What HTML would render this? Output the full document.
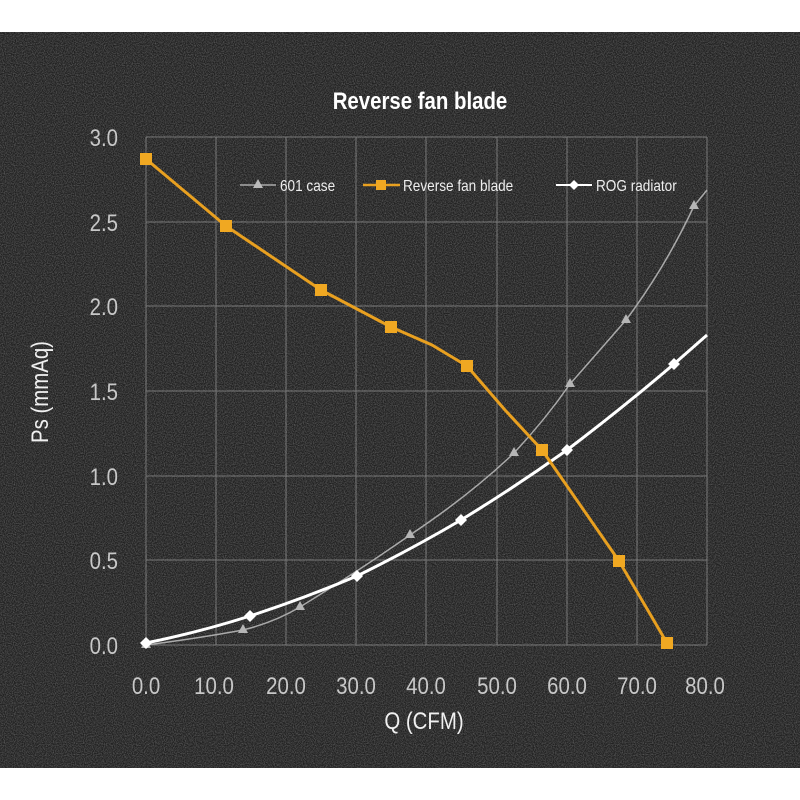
<!DOCTYPE html>
<html><head><style>
body{margin:0;background:#fff;}
svg{display:block;}
text{font-family:"Liberation Sans",sans-serif;}
</style></head><body>
<svg width="800" height="800" xmlns="http://www.w3.org/2000/svg">
<defs>
<filter id="n" x="0" y="0" width="100%" height="100%">
<feTurbulence type="fractalNoise" baseFrequency="0.9" numOctaves="2" seed="3"/>
<feColorMatrix values="0 0 0 0 0.22  0 0 0 0 0.22  0 0 0 0 0.22  0 0 0 1.4 -0.45"/>
</filter>
</defs>
<rect x="0" y="0" width="800" height="800" fill="#fff"/>
<rect x="0" y="32" width="800" height="736" fill="#202020"/>
<rect x="0" y="32" width="800" height="736" filter="url(#n)" opacity="0.8"/>
<g stroke="#8a8a8a" stroke-width="1" opacity="0.8">
<line x1="146" y1="137" x2="707" y2="137"/><line x1="146" y1="222" x2="707" y2="222"/>
<line x1="146" y1="306" x2="707" y2="306"/><line x1="146" y1="391" x2="707" y2="391"/>
<line x1="146" y1="476" x2="707" y2="476"/><line x1="146" y1="560" x2="707" y2="560"/>
<line x1="146" y1="645" x2="707" y2="645"/>
<line x1="146" y1="137" x2="146" y2="645"/><line x1="216" y1="137" x2="216" y2="645"/>
<line x1="286" y1="137" x2="286" y2="645"/><line x1="356" y1="137" x2="356" y2="645"/>
<line x1="426" y1="137" x2="426" y2="645"/><line x1="497" y1="137" x2="497" y2="645"/>
<line x1="567" y1="137" x2="567" y2="645"/><line x1="637" y1="137" x2="637" y2="645"/>
<line x1="707" y1="137" x2="707" y2="645"/>
</g>
<text x="420" y="109" fill="#fff" font-size="24" font-weight="bold" text-anchor="middle" transform="translate(420 0) scale(0.85 1) translate(-420 0)">Reverse fan blade</text>
<g fill="#c8c8c8" font-size="24" text-anchor="end" transform="translate(118 0) scale(0.85 1) translate(-118 0)">
<text x="118" y="146">3.0</text><text x="118" y="231">2.5</text><text x="118" y="315">2.0</text>
<text x="118" y="400">1.5</text><text x="118" y="485">1.0</text><text x="118" y="569">0.5</text>
<text x="118" y="654">0.0</text>
</g>
<g fill="#c8c8c8" font-size="24" text-anchor="middle">
<text transform="translate(146 694) scale(0.85 1)">0.0</text><text transform="translate(214 694) scale(0.85 1)">10.0</text><text transform="translate(286 694) scale(0.85 1)">20.0</text>
<text transform="translate(356 694) scale(0.85 1)">30.0</text><text transform="translate(426 694) scale(0.85 1)">40.0</text><text transform="translate(497 694) scale(0.85 1)">50.0</text>
<text transform="translate(567 694) scale(0.85 1)">60.0</text><text transform="translate(637 694) scale(0.85 1)">70.0</text><text transform="translate(705 694) scale(0.85 1)">80.0</text>
</g>
<text transform="translate(424 729) scale(0.85 1)" fill="#f0f0f0" font-size="24" text-anchor="middle">Q (CFM)</text>
<text transform="translate(48 392) rotate(-90) scale(0.85 1)" fill="#f0f0f0" font-size="24" text-anchor="middle">Ps (mmAq)</text>
<g font-size="16" fill="#eee">
<line x1="240" y1="185" x2="276" y2="185" stroke="#aaa" stroke-width="1.5"/>
<polygon points="258,179 263,188 253,188" fill="#bbb"/>
<text transform="translate(280 191) scale(0.85 1)">601 case</text>
<line x1="363" y1="185" x2="400" y2="185" stroke="#e8a020" stroke-width="2.5"/>
<rect x="376" y="180" width="10" height="10" fill="#f0a822"/>
<text transform="translate(403 191) scale(0.85 1)">Reverse fan blade</text>
<line x1="556" y1="185" x2="592" y2="185" stroke="#fff" stroke-width="2"/>
<polygon points="574,180 579,185 574,190 569,185" fill="#fff"/>
<text transform="translate(596 191) scale(0.85 1)">ROG radiator</text>
</g>
<path d="M146,645 Q200,638 243,630 Q275,622 300,607 Q360,570 410,535 Q470,495 514,453 Q545,420 570,384 Q600,350 626,320 Q665,268 694,206 L707,190" fill="none" stroke="#aaa" stroke-width="1.5"/>
<g fill="#b5b5b5">
<polygon points="146,639 151,648 141,648"/><polygon points="243,624 248,633 238,633"/>
<polygon points="300,601 305,610 295,610"/><polygon points="410,529 415,538 405,538"/>
<polygon points="514,447 519,456 509,456"/><polygon points="570,378 575,387 565,387"/>
<polygon points="626,314 631,323 621,323"/><polygon points="694,200 699,209 689,209"/>
</g>
<path d="M146,643 Q200,632 250,616 Q305,598 357,576 Q410,550 461,520 Q515,487 567,450 Q620,410 674,364 L707,335" fill="none" stroke="#fff" stroke-width="3"/>
<g fill="#fff">
<polygon points="146,637 152,643 146,649 140,643"/><polygon points="250,610 256,616 250,622 244,616"/>
<polygon points="357,570 363,576 357,582 351,576"/><polygon points="461,514 467,520 461,526 455,520"/>
<polygon points="567,444 573,450 567,456 561,450"/><polygon points="674,358 680,364 674,370 668,364"/>
</g>
<polyline points="146,159 226,226 321,290 391,327 432,345 467,366 505,410 542,450 619,561 667,643" fill="none" stroke="#e8a020" stroke-width="3" stroke-linejoin="round"/>
<g fill="#f0a822">
<rect x="140" y="153" width="12" height="12"/><rect x="220" y="220" width="12" height="12"/>
<rect x="315" y="284" width="12" height="12"/><rect x="385" y="321" width="12" height="12"/>
<rect x="461" y="360" width="12" height="12"/><rect x="536" y="444" width="12" height="12"/>
<rect x="613" y="555" width="12" height="12"/><rect x="661" y="637" width="12" height="12"/>
</g>
</svg>
</body></html>
